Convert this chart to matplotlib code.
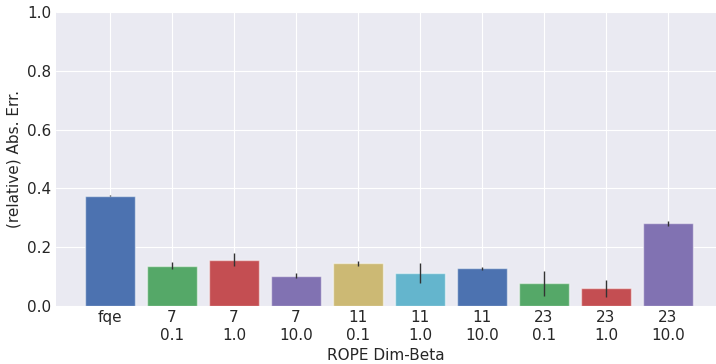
import matplotlib
matplotlib.use("Agg")
import matplotlib.pyplot as plt
import numpy as np

# values
labels = ["fqe", "7\n0.1", "7\n1.0", "7\n10.0", "11\n0.1", "11\n1.0",
          "11\n10.0", "23\n0.1", "23\n1.0", "23\n10.0"]
means = [0.375, 0.138, 0.157, 0.103, 0.145, 0.113, 0.128, 0.078, 0.060, 0.281]
errs = [0.002, 0.011, 0.022, 0.008, 0.010, 0.033, 0.005, 0.043, 0.029, 0.007]

palette = ["#4C72B0", "#55A868", "#C44E52", "#8172B2", "#CCB974", "#64B5CD"]
colors = [palette[i % len(palette)] for i in range(len(labels))]

plt.style.use("seaborn-v0_8-darkgrid")
plt.rcParams['font.family'] = ['DejaVu Sans']
plt.rcParams['grid.linewidth'] = 0.8

fig = plt.figure(figsize=(7.16, 3.64), dpi=100)
ax = fig.add_axes([0.078, 0.159, 0.922, 0.808])

x = np.arange(len(labels))
ax.bar(x, means, width=0.8, color=colors, edgecolor=(1, 1, 1, 0.5), linewidth=1)
ax.errorbar(x, means, yerr=errs, fmt="none", ecolor="#333333", elinewidth=1, capsize=0)

ax.set_xticks(x)
ax.set_xticklabels(labels, fontsize=11, color="#262626")
ax.tick_params(axis="y", labelsize=11, labelcolor="#262626")
ax.set_yticks(np.arange(0, 1.01, 0.2))
ax.set_ylim(0, 1.0)
ax.set_xlim(-0.871, 9.774)
ax.set_ylabel("(relative) Abs. Err.", fontsize=11, color="#262626")
ax.set_xlabel("ROPE Dim-Beta", fontsize=11, color="#262626")
ax.tick_params(axis="x", pad=3)

fig.savefig("out.png", dpi=100)
